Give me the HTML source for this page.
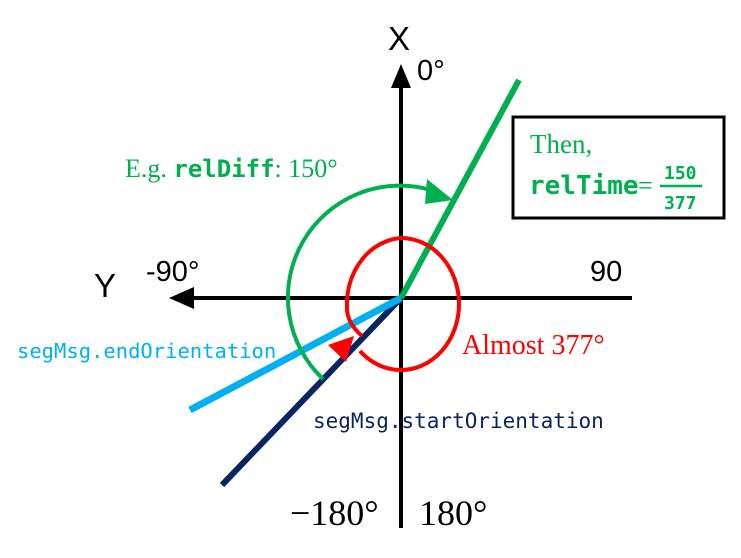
<!DOCTYPE html>
<html><head><meta charset="utf-8"><style>
html,body{margin:0;padding:0;background:#fff;width:741px;height:558px;overflow:hidden}
</style></head><body>
<svg width="741" height="558" viewBox="0 0 741 558" xmlns="http://www.w3.org/2000/svg">
<g>
<line x1="401" y1="528" x2="401" y2="82" stroke="#000" stroke-width="4"/>
<polygon points="401,64 391,88 411,88" fill="#000"/>
</g>
<g>
<line x1="632" y1="298" x2="188" y2="298" stroke="#000" stroke-width="4"/>
<polygon points="169,298 194,287 194,309" fill="#000"/>
</g>
<line x1="401" y1="298" x2="222" y2="485" stroke="#0a2463" stroke-width="6"/>
<line x1="401" y1="298" x2="190" y2="410" stroke="#00b0f0" stroke-width="7"/>
<line x1="401" y1="298" x2="519" y2="80" stroke="#00b050" stroke-width="6"/>
<g>
<path d="M323,379 A112,112 0 0 1 431,190" fill="none" stroke="#00b050" stroke-width="4"/>
<polygon points="453,200 427,179 425,204" fill="#00b050"/>
</g>
<g>
<path d="M362,336 Q346,322 347,306 A58,66 0 0 1 401,238 A58,66 0 0 1 401,370 A58,66 0 0 1 360,351" fill="none" stroke="#ff0000" stroke-width="4"/>
<polygon points="328,345 354,336 346,362" fill="#ff0000"/>
</g>
<text x="388" y="50" font-family="Liberation Sans, sans-serif" font-size="33">X</text>
<text x="417" y="80" font-family="Liberation Sans, sans-serif" font-size="29">0°</text>
<text x="94" y="297" font-family="Liberation Sans, sans-serif" font-size="33">Y</text>
<text x="146" y="281" font-family="Liberation Sans, sans-serif" font-size="29">-90°</text>
<text x="590" y="281" font-family="Liberation Sans, sans-serif" font-size="29">90</text>
<text x="290" y="525" font-family="Liberation Serif, serif" font-size="36">−180°</text>
<text x="419" y="525" font-family="Liberation Serif, serif" font-size="36">180°</text>
<text x="125" y="177" fill="#00b050" font-size="26"><tspan font-family="Liberation Serif, serif">E.g. </tspan><tspan font-family="DejaVu Sans Mono, monospace" font-weight="bold" font-size="24">relDiff</tspan><tspan font-family="Liberation Serif, serif">: 150°</tspan></text>
<text x="17" y="358" fill="#00b0f0" font-family="DejaVu Sans Mono, monospace" font-size="20.5">segMsg.endOrientation</text>
<text x="313" y="428" fill="#0a2463" font-family="DejaVu Sans Mono, monospace" font-size="21">segMsg.startOrientation</text>
<text x="462" y="354" fill="#ff0000" font-family="Liberation Serif, serif" font-size="28">Almost 377°</text>
<g>
<rect x="513" y="117" width="211" height="101" fill="#fff" stroke="#000" stroke-width="3"/>
<text x="530" y="153" fill="#00b050" font-family="Liberation Serif, serif" font-size="27">Then,</text>
<text x="529" y="194" fill="#00b050" font-family="DejaVu Sans Mono, monospace" font-weight="bold" font-size="26">relTime</text>
<text x="638" y="194" fill="#00b050" font-family="Liberation Serif, serif" font-size="26">=</text>
<line x1="660" y1="186" x2="702" y2="186" stroke="#00b050" stroke-width="2.5"/>
<text x="664" y="179" fill="#00b050" font-family="DejaVu Sans Mono, monospace" font-weight="bold" font-size="18">150</text>
<text x="664" y="209" fill="#00b050" font-family="DejaVu Sans Mono, monospace" font-weight="bold" font-size="18">377</text>
</g>
</svg>
</body></html>
